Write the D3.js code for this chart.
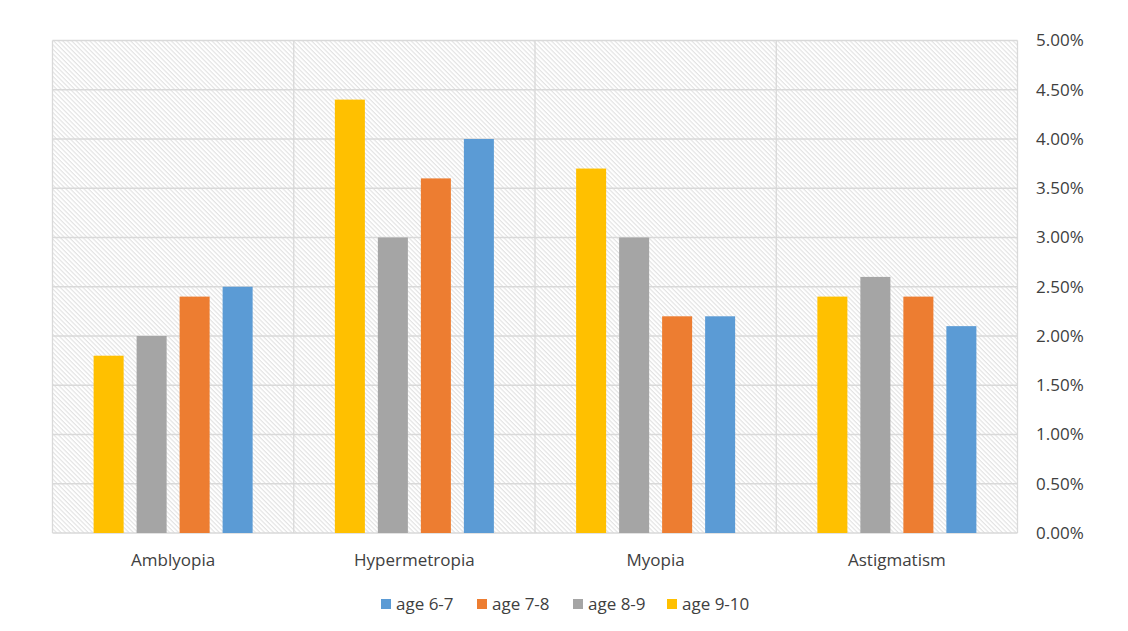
<!DOCTYPE html>
<html lang="en">
<head>
    <meta charset="utf-8">
    <title>Vision problems by age</title>
    <script type="text/javascript" src="https://cdn.jsdelivr.net/npm/d3@7"></script>
    <style>
        body { margin: 0; background: #fff; }
        text { font-family: "Open Sans", "Liberation Sans", sans-serif; fill: #404040; }
    </style>
</head>
<body>
    <svg width="1128" height="631"></svg>
    <script>
        // data (percent)
        var categories = ["Amblyopia", "Hypermetropia", "Myopia", "Astigmatism"];
        var seriesNames = ["age 9-10", "age 8-9", "age 7-8", "age 6-7"];
        var legendOrder = ["age 6-7", "age 7-8", "age 8-9", "age 9-10"];
        var age910 = [1.8, 4.4, 3.7, 2.4];
        var age89 = [2.0, 3.0, 3.0, 2.6];
        var age78 = [2.4, 3.6, 2.2, 2.4];
        var age67 = [2.5, 4.0, 2.2, 2.1];
        var yTicks = [0, 0.5, 1, 1.5, 2, 2.5, 3, 3.5, 4, 4.5, 5];

        var values = { "age 9-10": age910, "age 8-9": age89, "age 7-8": age78, "age 6-7": age67 };
        var colors = { "age 6-7": "#5b9bd5", "age 7-8": "#ed7d31", "age 8-9": "#a5a5a5", "age 9-10": "#ffc000" };

        var svg = d3.select("svg");
        var plotLeft = 52.5, plotRight = 1017.5, plotTop = 40.5, plotBottom = 533;

        var x0 = d3.scaleBand().domain(categories).range([plotLeft, plotRight]).padding(0);
        var x1 = d3.scaleBand().domain(seriesNames).range([0, x0.bandwidth()])
            .paddingInner(0.302).paddingOuter(0.956);
        var y = d3.scaleLinear().domain([0, 5]).range([plotBottom, plotTop]);

        // hatched background ( \\\ direction )
        var defs = svg.append("defs");
        var pat = defs.append("pattern").attr("id", "hatch")
            .attr("patternUnits", "userSpaceOnUse")
            .attr("width", 3.2).attr("height", 3.2)
            .attr("patternTransform", "rotate(45)");
        pat.append("rect").attr("width", 3.2).attr("height", 3.2).attr("fill", "#ffffff");
        pat.append("line").attr("x1", 0).attr("y1", 0.6).attr("x2", 3.2).attr("y2", 0.6)
            .attr("stroke", "#e2e2e2").attr("stroke-width", 1.1);

        svg.append("rect").attr("x", plotLeft).attr("y", plotTop)
            .attr("width", plotRight - plotLeft).attr("height", plotBottom - plotTop)
            .attr("fill", "url(#hatch)");

        // horizontal gridlines
        svg.append("g").selectAll("line").data(yTicks).enter().append("line")
            .attr("x1", plotLeft).attr("x2", plotRight)
            .attr("y1", function (d) { return y(d); })
            .attr("y2", function (d) { return y(d); })
            .attr("stroke", "#d9d9d9").attr("stroke-width", 1.3);

        // vertical category lines
        var edges = categories.map(function (c) { return x0(c); }).concat([plotRight]);
        svg.append("g").selectAll("line").data(edges).enter().append("line")
            .attr("x1", function (d) { return d; }).attr("x2", function (d) { return d; })
            .attr("y1", plotTop).attr("y2", plotBottom)
            .attr("stroke", "#d9d9d9").attr("stroke-width", 1.3);

        // bars
        var groups = svg.append("g").selectAll("g").data(categories).enter().append("g")
            .attr("transform", function (c) { return "translate(" + x0(c) + ",0)"; });
        groups.selectAll("rect")
            .data(function (c, i) {
                return seriesNames.map(function (s) { return { s: s, v: values[s][i] }; });
            })
            .enter().append("rect")
            .attr("x", function (d) { return x1(d.s); })
            .attr("width", x1.bandwidth())
            .attr("y", function (d) { return y(d.v); })
            .attr("height", function (d) { return plotBottom - y(d.v); })
            .attr("fill", function (d) { return colors[d.s]; });

        // right axis labels
        svg.append("g").selectAll("text").data(yTicks).enter().append("text")
            .attr("x", 1036).attr("y", function (d) { return y(d); })
            .attr("dy", "0.35em").attr("font-size", 17)
            .text(function (d) { return d.toFixed(2) + "%"; });

        // category labels
        svg.append("g").selectAll("text").data(categories).enter().append("text")
            .attr("x", function (c) { return x0(c) + x0.bandwidth() / 2; })
            .attr("y", 560).attr("dy", "0.35em").attr("text-anchor", "middle")
            .attr("font-size", 17)
            .text(function (c) { return c; });

        // legend
        var legendX = [381, 477, 573, 667];
        var leg = svg.append("g").selectAll("g").data(legendOrder).enter().append("g")
            .attr("transform", function (d, i) { return "translate(" + legendX[i] + ",604)"; });
        leg.append("rect").attr("x", 0).attr("y", -5).attr("width", 10).attr("height", 10)
            .attr("fill", function (d) { return colors[d]; });
        leg.append("text").attr("x", 15).attr("y", 0).attr("dy", "0.35em")
            .attr("font-size", 17).text(function (d) { return d; });
    </script>
</body>
</html>
